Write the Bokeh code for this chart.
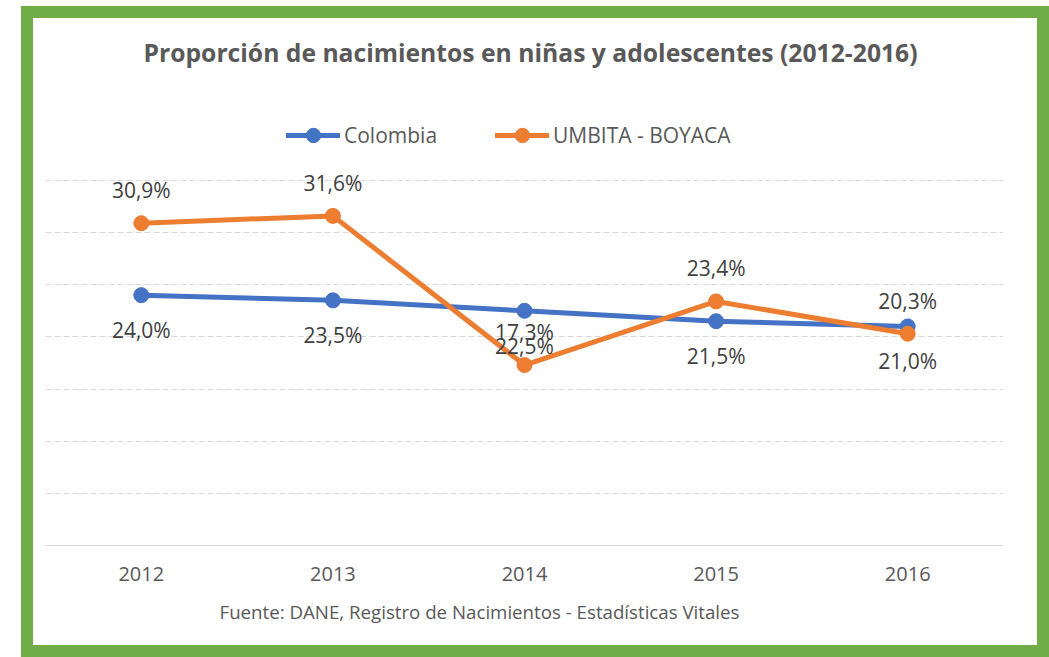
from bokeh.plotting import figure
from bokeh.models import (FactorRange, Range1d, ColumnDataSource, Legend, LegendItem,
                          Title, FixedTicker)
from bokeh.core.properties import value
from bokeh.embed import file_html
from bokeh.resources import INLINE

years = ["2012", "2013", "2014", "2015", "2016"]
colombia = [24.0, 23.5, 22.5, 21.5, 21.0]
umbita = [30.9, 31.6, 17.3, 23.4, 20.3]
colombia_labels = ["24,0%", "23,5%", "22,5%", "21,5%", "21,0%"]
umbita_labels = ["30,9%", "31,6%", "17,3%", "23,4%", "20,3%"]
series_names = ["Colombia", "UMBITA - BOYACA"]

title_text = "Proporción de nacimientos en niñas y adolescentes (2012-2016)"
source_text = "Fuente: DANE, Registro de Nacimientos - Estadísticas Vitales"

BLUE = "#4472C4"
ORANGE = "#ED7D31"
GREEN = "#70AD47"
GREY_TXT = "#595959"
LABEL_TXT = "#404040"
FONT = "Open Sans"

W, H = 1004, 627
p = figure(width=W, height=H, output_backend="svg", toolbar_location=None,
           x_range=FactorRange(*years, range_padding=0),
           y_range=Range1d(0, 44.77),
           min_border_left=12, min_border_right=58,
           min_border_top=60, min_border_bottom=124)
p.outline_line_color = None
p.background_fill_color = "white"
p.border_fill_color = "white"
p.styles = {"margin-left": "21px", "margin-top": "6px",
            "border": "12px solid " + GREEN, "box-sizing": "content-box"}

# title
p.title = Title(text=title_text, align="left", offset=98, text_font=FONT,
                text_font_size="24.7px", text_font_style="bold",
                text_color=GREY_TXT, standoff=16, vertical_align="top")

# axes
p.yaxis.visible = False
p.xaxis.axis_line_color = "#D9D9D9"
p.xaxis.axis_line_width = 1
p.xaxis.major_tick_line_color = None
p.xaxis.minor_tick_line_color = None
p.xaxis.major_label_text_font = FONT
p.xaxis.major_label_text_font_size = "20px"
p.xaxis.major_label_text_color = GREY_TXT
p.xaxis.major_label_standoff = 15

p.xgrid.visible = False
p.ygrid.ticker = FixedTicker(ticks=[5, 10, 15, 20, 25, 30, 35])
p.ygrid.grid_line_color = "#D9D9D9"
p.ygrid.grid_line_dash = "6 3"
p.ygrid.grid_line_width = 1

src = ColumnDataSource(dict(x=years, c=colombia, u=umbita,
                            cl=colombia_labels, ul=umbita_labels))

lc = p.line("x", "c", source=src, line_color=BLUE, line_width=5, line_cap="round")
mc = p.scatter("x", "c", source=src, size=15, fill_color=BLUE, line_color=BLUE)
lu = p.line("x", "u", source=src, line_color=ORANGE, line_width=5, line_cap="round")
mu = p.scatter("x", "u", source=src, size=15, fill_color=ORANGE, line_color=ORANGE)

p.text("x", "c", text="cl", source=src, y_offset=35, text_align="center",
       text_baseline="middle", text_font=value(FONT), text_font_size="21px",
       text_color=LABEL_TXT)
p.text("x", "u", text="ul", source=src, y_offset=-33, text_align="center",
       text_baseline="middle", text_font=value(FONT), text_font_size="21px",
       text_color=LABEL_TXT)

legend = Legend(items=[LegendItem(label=series_names[0], renderers=[lc, mc]),
                       LegendItem(label=series_names[1], renderers=[lu, mu])],
                orientation="horizontal", location=(241, 392),
                glyph_width=54, glyph_height=36, label_height=36,
                label_standoff=4, spacing=58, padding=0, margin=0,
                label_text_font=FONT, label_text_font_size="21px",
                label_text_color=GREY_TXT, border_line_color=None,
                background_fill_alpha=0)
p.add_layout(legend, "center")

# source note
p.add_layout(Title(text=source_text, align="left", offset=174, text_font=FONT,
                   text_font_size="18.7px", text_font_style="normal",
                   text_color=GREY_TXT, standoff=26), "below")

open("out.html", "w").write(file_html(p, INLINE))
